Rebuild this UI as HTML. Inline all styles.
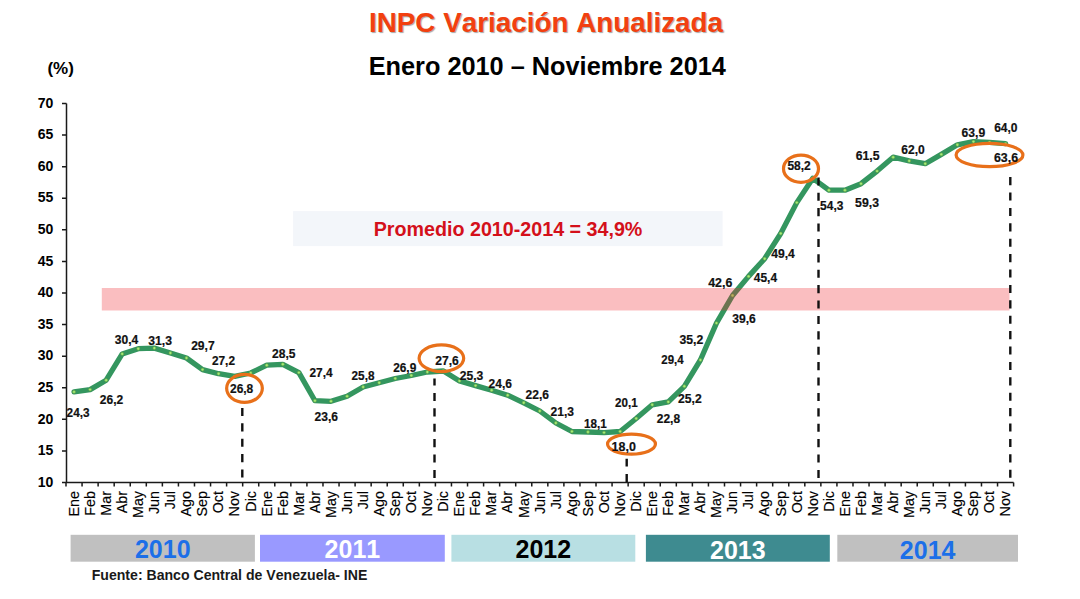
<!DOCTYPE html><html><head><meta charset="utf-8"><style>html,body{margin:0;padding:0;background:#fff;}body{width:1080px;height:599px;overflow:hidden;}svg{display:block;}text{font-family:"Liberation Sans",sans-serif;font-kerning:none;}</style></head><body>
<svg width="1080" height="599" viewBox="0 0 1080 599">
<rect width="1080" height="599" fill="#fff"/>
<text x="369.0" y="31.6" font-size="28.0" textLength="354.0" lengthAdjust="spacingAndGlyphs" font-weight="bold" fill="#F2400F" style="text-shadow:1px 1px 1px rgba(0,0,0,0.35)">INPC Variación Anualizada</text>
<text x="368.7" y="75.3" font-size="25.3" font-weight="bold" fill="#000">Enero 2010 – Noviembre 2014</text>
<text x="47.45" y="73.5" font-size="17" font-weight="bold" fill="#000">(%)</text>
<rect x="293.1" y="211.1" width="429.5" height="35" fill="#F3F6FA"/>
<text x="373.7" y="235.6" font-size="19.7" font-weight="bold" fill="#D4101A">Promedio 2010-2014 = 34,9%</text>
<path d="M66.5 103.5V482.5H1013.6 M62 103.50H66.5 M62 135.08H66.5 M62 166.67H66.5 M62 198.25H66.5 M62 229.83H66.5 M62 261.42H66.5 M62 293.00H66.5 M62 324.58H66.5 M62 356.17H66.5 M62 387.75H66.5 M62 419.33H66.5 M62 450.92H66.5 M62 482.50H66.5 M66.00 482.5V486.5 M82.06 482.5V486.5 M98.12 482.5V486.5 M114.18 482.5V486.5 M130.24 482.5V486.5 M146.31 482.5V486.5 M162.37 482.5V486.5 M178.43 482.5V486.5 M194.49 482.5V486.5 M210.55 482.5V486.5 M226.61 482.5V486.5 M242.67 482.5V486.5 M258.73 482.5V486.5 M274.79 482.5V486.5 M290.85 482.5V486.5 M306.92 482.5V486.5 M322.98 482.5V486.5 M339.04 482.5V486.5 M355.10 482.5V486.5 M371.16 482.5V486.5 M387.22 482.5V486.5 M403.28 482.5V486.5 M419.34 482.5V486.5 M435.40 482.5V486.5 M451.46 482.5V486.5 M467.53 482.5V486.5 M483.59 482.5V486.5 M499.65 482.5V486.5 M515.71 482.5V486.5 M531.77 482.5V486.5 M547.83 482.5V486.5 M563.89 482.5V486.5 M579.95 482.5V486.5 M596.01 482.5V486.5 M612.07 482.5V486.5 M628.14 482.5V486.5 M644.20 482.5V486.5 M660.26 482.5V486.5 M676.32 482.5V486.5 M692.38 482.5V486.5 M708.44 482.5V486.5 M724.50 482.5V486.5 M740.56 482.5V486.5 M756.62 482.5V486.5 M772.68 482.5V486.5 M788.75 482.5V486.5 M804.81 482.5V486.5 M820.87 482.5V486.5 M836.93 482.5V486.5 M852.99 482.5V486.5 M869.05 482.5V486.5 M885.11 482.5V486.5 M901.17 482.5V486.5 M917.23 482.5V486.5 M933.29 482.5V486.5 M949.36 482.5V486.5 M965.42 482.5V486.5 M981.48 482.5V486.5 M997.54 482.5V486.5 M1013.60 482.5V486.5" stroke="#1a1a1a" stroke-width="1.5" fill="none"/>
<text x="53.3" y="107.70" font-size="14" font-weight="bold" text-anchor="end" fill="#000">70</text>
<text x="53.3" y="139.28" font-size="14" font-weight="bold" text-anchor="end" fill="#000">65</text>
<text x="53.3" y="170.87" font-size="14" font-weight="bold" text-anchor="end" fill="#000">60</text>
<text x="53.3" y="202.45" font-size="14" font-weight="bold" text-anchor="end" fill="#000">55</text>
<text x="53.3" y="234.03" font-size="14" font-weight="bold" text-anchor="end" fill="#000">50</text>
<text x="53.3" y="265.62" font-size="14" font-weight="bold" text-anchor="end" fill="#000">45</text>
<text x="53.3" y="297.20" font-size="14" font-weight="bold" text-anchor="end" fill="#000">40</text>
<text x="53.3" y="328.78" font-size="14" font-weight="bold" text-anchor="end" fill="#000">35</text>
<text x="53.3" y="360.37" font-size="14" font-weight="bold" text-anchor="end" fill="#000">30</text>
<text x="53.3" y="391.95" font-size="14" font-weight="bold" text-anchor="end" fill="#000">25</text>
<text x="53.3" y="423.53" font-size="14" font-weight="bold" text-anchor="end" fill="#000">20</text>
<text x="53.3" y="455.12" font-size="14" font-weight="bold" text-anchor="end" fill="#000">15</text>
<text x="53.3" y="486.70" font-size="14" font-weight="bold" text-anchor="end" fill="#000">10</text>
<text transform="translate(78.83,491) rotate(-90)" font-size="14.3" text-anchor="end" fill="#000" stroke="#000" stroke-width="0.15">Ene</text>
<text transform="translate(94.89,491) rotate(-90)" font-size="14.3" text-anchor="end" fill="#000" stroke="#000" stroke-width="0.15">Feb</text>
<text transform="translate(110.95,491) rotate(-90)" font-size="14.3" text-anchor="end" fill="#000" stroke="#000" stroke-width="0.15">Mar</text>
<text transform="translate(127.01,491) rotate(-90)" font-size="14.3" text-anchor="end" fill="#000" stroke="#000" stroke-width="0.15">Abr</text>
<text transform="translate(143.07,491) rotate(-90)" font-size="14.3" text-anchor="end" fill="#000" stroke="#000" stroke-width="0.15">May</text>
<text transform="translate(159.14,491) rotate(-90)" font-size="14.3" text-anchor="end" fill="#000" stroke="#000" stroke-width="0.15">Jun</text>
<text transform="translate(175.20,491) rotate(-90)" font-size="14.3" text-anchor="end" fill="#000" stroke="#000" stroke-width="0.15">Jul</text>
<text transform="translate(191.26,491) rotate(-90)" font-size="14.3" text-anchor="end" fill="#000" stroke="#000" stroke-width="0.15">Ago</text>
<text transform="translate(207.32,491) rotate(-90)" font-size="14.3" text-anchor="end" fill="#000" stroke="#000" stroke-width="0.15">Sep</text>
<text transform="translate(223.38,491) rotate(-90)" font-size="14.3" text-anchor="end" fill="#000" stroke="#000" stroke-width="0.15">Oct</text>
<text transform="translate(239.44,491) rotate(-90)" font-size="14.3" text-anchor="end" fill="#000" stroke="#000" stroke-width="0.15">Nov</text>
<text transform="translate(255.50,491) rotate(-90)" font-size="14.3" text-anchor="end" fill="#000" stroke="#000" stroke-width="0.15">Dic</text>
<text transform="translate(271.56,491) rotate(-90)" font-size="14.3" text-anchor="end" fill="#000" stroke="#000" stroke-width="0.15">Ene</text>
<text transform="translate(287.62,491) rotate(-90)" font-size="14.3" text-anchor="end" fill="#000" stroke="#000" stroke-width="0.15">Feb</text>
<text transform="translate(303.68,491) rotate(-90)" font-size="14.3" text-anchor="end" fill="#000" stroke="#000" stroke-width="0.15">Mar</text>
<text transform="translate(319.75,491) rotate(-90)" font-size="14.3" text-anchor="end" fill="#000" stroke="#000" stroke-width="0.15">Abr</text>
<text transform="translate(335.81,491) rotate(-90)" font-size="14.3" text-anchor="end" fill="#000" stroke="#000" stroke-width="0.15">May</text>
<text transform="translate(351.87,491) rotate(-90)" font-size="14.3" text-anchor="end" fill="#000" stroke="#000" stroke-width="0.15">Jun</text>
<text transform="translate(367.93,491) rotate(-90)" font-size="14.3" text-anchor="end" fill="#000" stroke="#000" stroke-width="0.15">Jul</text>
<text transform="translate(383.99,491) rotate(-90)" font-size="14.3" text-anchor="end" fill="#000" stroke="#000" stroke-width="0.15">Ago</text>
<text transform="translate(400.05,491) rotate(-90)" font-size="14.3" text-anchor="end" fill="#000" stroke="#000" stroke-width="0.15">Sep</text>
<text transform="translate(416.11,491) rotate(-90)" font-size="14.3" text-anchor="end" fill="#000" stroke="#000" stroke-width="0.15">Oct</text>
<text transform="translate(432.17,491) rotate(-90)" font-size="14.3" text-anchor="end" fill="#000" stroke="#000" stroke-width="0.15">Nov</text>
<text transform="translate(448.23,491) rotate(-90)" font-size="14.3" text-anchor="end" fill="#000" stroke="#000" stroke-width="0.15">Dic</text>
<text transform="translate(464.29,491) rotate(-90)" font-size="14.3" text-anchor="end" fill="#000" stroke="#000" stroke-width="0.15">Ene</text>
<text transform="translate(480.36,491) rotate(-90)" font-size="14.3" text-anchor="end" fill="#000" stroke="#000" stroke-width="0.15">Feb</text>
<text transform="translate(496.42,491) rotate(-90)" font-size="14.3" text-anchor="end" fill="#000" stroke="#000" stroke-width="0.15">Mar</text>
<text transform="translate(512.48,491) rotate(-90)" font-size="14.3" text-anchor="end" fill="#000" stroke="#000" stroke-width="0.15">Abr</text>
<text transform="translate(528.54,491) rotate(-90)" font-size="14.3" text-anchor="end" fill="#000" stroke="#000" stroke-width="0.15">May</text>
<text transform="translate(544.60,491) rotate(-90)" font-size="14.3" text-anchor="end" fill="#000" stroke="#000" stroke-width="0.15">Jun</text>
<text transform="translate(560.66,491) rotate(-90)" font-size="14.3" text-anchor="end" fill="#000" stroke="#000" stroke-width="0.15">Jul</text>
<text transform="translate(576.72,491) rotate(-90)" font-size="14.3" text-anchor="end" fill="#000" stroke="#000" stroke-width="0.15">Ago</text>
<text transform="translate(592.78,491) rotate(-90)" font-size="14.3" text-anchor="end" fill="#000" stroke="#000" stroke-width="0.15">Sep</text>
<text transform="translate(608.84,491) rotate(-90)" font-size="14.3" text-anchor="end" fill="#000" stroke="#000" stroke-width="0.15">Oct</text>
<text transform="translate(624.91,491) rotate(-90)" font-size="14.3" text-anchor="end" fill="#000" stroke="#000" stroke-width="0.15">Nov</text>
<text transform="translate(640.97,491) rotate(-90)" font-size="14.3" text-anchor="end" fill="#000" stroke="#000" stroke-width="0.15">Dic</text>
<text transform="translate(657.03,491) rotate(-90)" font-size="14.3" text-anchor="end" fill="#000" stroke="#000" stroke-width="0.15">Ene</text>
<text transform="translate(673.09,491) rotate(-90)" font-size="14.3" text-anchor="end" fill="#000" stroke="#000" stroke-width="0.15">Feb</text>
<text transform="translate(689.15,491) rotate(-90)" font-size="14.3" text-anchor="end" fill="#000" stroke="#000" stroke-width="0.15">Mar</text>
<text transform="translate(705.21,491) rotate(-90)" font-size="14.3" text-anchor="end" fill="#000" stroke="#000" stroke-width="0.15">Abr</text>
<text transform="translate(721.27,491) rotate(-90)" font-size="14.3" text-anchor="end" fill="#000" stroke="#000" stroke-width="0.15">May</text>
<text transform="translate(737.33,491) rotate(-90)" font-size="14.3" text-anchor="end" fill="#000" stroke="#000" stroke-width="0.15">Jun</text>
<text transform="translate(753.39,491) rotate(-90)" font-size="14.3" text-anchor="end" fill="#000" stroke="#000" stroke-width="0.15">Jul</text>
<text transform="translate(769.45,491) rotate(-90)" font-size="14.3" text-anchor="end" fill="#000" stroke="#000" stroke-width="0.15">Ago</text>
<text transform="translate(785.52,491) rotate(-90)" font-size="14.3" text-anchor="end" fill="#000" stroke="#000" stroke-width="0.15">Sep</text>
<text transform="translate(801.58,491) rotate(-90)" font-size="14.3" text-anchor="end" fill="#000" stroke="#000" stroke-width="0.15">Oct</text>
<text transform="translate(817.64,491) rotate(-90)" font-size="14.3" text-anchor="end" fill="#000" stroke="#000" stroke-width="0.15">Nov</text>
<text transform="translate(833.70,491) rotate(-90)" font-size="14.3" text-anchor="end" fill="#000" stroke="#000" stroke-width="0.15">Dic</text>
<text transform="translate(849.76,491) rotate(-90)" font-size="14.3" text-anchor="end" fill="#000" stroke="#000" stroke-width="0.15">Ene</text>
<text transform="translate(865.82,491) rotate(-90)" font-size="14.3" text-anchor="end" fill="#000" stroke="#000" stroke-width="0.15">Feb</text>
<text transform="translate(881.88,491) rotate(-90)" font-size="14.3" text-anchor="end" fill="#000" stroke="#000" stroke-width="0.15">Mar</text>
<text transform="translate(897.94,491) rotate(-90)" font-size="14.3" text-anchor="end" fill="#000" stroke="#000" stroke-width="0.15">Abr</text>
<text transform="translate(914.00,491) rotate(-90)" font-size="14.3" text-anchor="end" fill="#000" stroke="#000" stroke-width="0.15">May</text>
<text transform="translate(930.06,491) rotate(-90)" font-size="14.3" text-anchor="end" fill="#000" stroke="#000" stroke-width="0.15">Jun</text>
<text transform="translate(946.13,491) rotate(-90)" font-size="14.3" text-anchor="end" fill="#000" stroke="#000" stroke-width="0.15">Jul</text>
<text transform="translate(962.19,491) rotate(-90)" font-size="14.3" text-anchor="end" fill="#000" stroke="#000" stroke-width="0.15">Ago</text>
<text transform="translate(978.25,491) rotate(-90)" font-size="14.3" text-anchor="end" fill="#000" stroke="#000" stroke-width="0.15">Sep</text>
<text transform="translate(994.31,491) rotate(-90)" font-size="14.3" text-anchor="end" fill="#000" stroke="#000" stroke-width="0.15">Oct</text>
<text transform="translate(1010.37,491) rotate(-90)" font-size="14.3" text-anchor="end" fill="#000" stroke="#000" stroke-width="0.15">Nov</text>
<path d="M74.03 391.90 L90.09 389.60 L106.15 380.20 L122.21 353.90 L138.27 348.70 L154.34 348.10 L170.40 353.00 L186.46 358.00 L202.52 369.60 L218.58 373.70 L234.64 376.40 L250.70 373.00 L266.76 365.20 L282.82 364.30 L298.88 372.60 L314.95 400.70 L331.01 401.30 L347.07 396.30 L363.13 387.00 L379.19 382.80 L395.25 378.50 L411.31 375.50 L427.37 372.00 L443.43 371.00 L459.49 380.90 L475.56 385.60 L491.62 390.20 L507.68 395.20 L523.74 402.80 L539.80 411.00 L555.86 423.00 L571.92 431.50 L587.98 432.00 L604.04 432.60 L620.11 431.50 L636.17 418.50 L652.23 404.80 L668.29 401.90 L684.35 386.30 L700.41 360.00 L716.47 323.10 L732.53 295.50 L748.59 276.40 L764.65 258.70 L780.72 233.50 L796.78 202.60 L812.84 178.30 L828.90 190.20 L844.96 190.20 L861.02 183.70 L877.08 171.10 L893.14 157.20 L909.20 160.90 L925.26 163.70 L941.33 154.40 L957.39 144.80 L973.45 141.60 L989.51 142.40 L1005.57 143.60" stroke="#34965F" stroke-width="5.3" fill="none" stroke-linejoin="round" stroke-linecap="round"/>
<circle cx="74.03" cy="391.90" r="1.45" fill="#9CF27C" stroke="#7A9A38" stroke-width="0.5"/>
<circle cx="90.09" cy="389.60" r="1.45" fill="#9CF27C" stroke="#7A9A38" stroke-width="0.5"/>
<circle cx="106.15" cy="380.20" r="1.45" fill="#9CF27C" stroke="#7A9A38" stroke-width="0.5"/>
<circle cx="122.21" cy="353.90" r="1.45" fill="#9CF27C" stroke="#7A9A38" stroke-width="0.5"/>
<circle cx="138.27" cy="348.70" r="1.45" fill="#9CF27C" stroke="#7A9A38" stroke-width="0.5"/>
<circle cx="154.34" cy="348.10" r="1.45" fill="#9CF27C" stroke="#7A9A38" stroke-width="0.5"/>
<circle cx="170.40" cy="353.00" r="1.45" fill="#9CF27C" stroke="#7A9A38" stroke-width="0.5"/>
<circle cx="186.46" cy="358.00" r="1.45" fill="#9CF27C" stroke="#7A9A38" stroke-width="0.5"/>
<circle cx="202.52" cy="369.60" r="1.45" fill="#9CF27C" stroke="#7A9A38" stroke-width="0.5"/>
<circle cx="218.58" cy="373.70" r="1.45" fill="#9CF27C" stroke="#7A9A38" stroke-width="0.5"/>
<circle cx="234.64" cy="376.40" r="1.45" fill="#9CF27C" stroke="#7A9A38" stroke-width="0.5"/>
<circle cx="250.70" cy="373.00" r="1.45" fill="#9CF27C" stroke="#7A9A38" stroke-width="0.5"/>
<circle cx="266.76" cy="365.20" r="1.45" fill="#9CF27C" stroke="#7A9A38" stroke-width="0.5"/>
<circle cx="282.82" cy="364.30" r="1.45" fill="#9CF27C" stroke="#7A9A38" stroke-width="0.5"/>
<circle cx="298.88" cy="372.60" r="1.45" fill="#9CF27C" stroke="#7A9A38" stroke-width="0.5"/>
<circle cx="314.95" cy="400.70" r="1.45" fill="#9CF27C" stroke="#7A9A38" stroke-width="0.5"/>
<circle cx="331.01" cy="401.30" r="1.45" fill="#9CF27C" stroke="#7A9A38" stroke-width="0.5"/>
<circle cx="347.07" cy="396.30" r="1.45" fill="#9CF27C" stroke="#7A9A38" stroke-width="0.5"/>
<circle cx="363.13" cy="387.00" r="1.45" fill="#9CF27C" stroke="#7A9A38" stroke-width="0.5"/>
<circle cx="379.19" cy="382.80" r="1.45" fill="#9CF27C" stroke="#7A9A38" stroke-width="0.5"/>
<circle cx="395.25" cy="378.50" r="1.45" fill="#9CF27C" stroke="#7A9A38" stroke-width="0.5"/>
<circle cx="411.31" cy="375.50" r="1.45" fill="#9CF27C" stroke="#7A9A38" stroke-width="0.5"/>
<circle cx="427.37" cy="372.00" r="1.45" fill="#9CF27C" stroke="#7A9A38" stroke-width="0.5"/>
<circle cx="443.43" cy="371.00" r="1.45" fill="#9CF27C" stroke="#7A9A38" stroke-width="0.5"/>
<circle cx="459.49" cy="380.90" r="1.45" fill="#9CF27C" stroke="#7A9A38" stroke-width="0.5"/>
<circle cx="475.56" cy="385.60" r="1.45" fill="#9CF27C" stroke="#7A9A38" stroke-width="0.5"/>
<circle cx="491.62" cy="390.20" r="1.45" fill="#9CF27C" stroke="#7A9A38" stroke-width="0.5"/>
<circle cx="507.68" cy="395.20" r="1.45" fill="#9CF27C" stroke="#7A9A38" stroke-width="0.5"/>
<circle cx="523.74" cy="402.80" r="1.45" fill="#9CF27C" stroke="#7A9A38" stroke-width="0.5"/>
<circle cx="539.80" cy="411.00" r="1.45" fill="#9CF27C" stroke="#7A9A38" stroke-width="0.5"/>
<circle cx="555.86" cy="423.00" r="1.45" fill="#9CF27C" stroke="#7A9A38" stroke-width="0.5"/>
<circle cx="571.92" cy="431.50" r="1.45" fill="#9CF27C" stroke="#7A9A38" stroke-width="0.5"/>
<circle cx="587.98" cy="432.00" r="1.45" fill="#9CF27C" stroke="#7A9A38" stroke-width="0.5"/>
<circle cx="604.04" cy="432.60" r="1.45" fill="#9CF27C" stroke="#7A9A38" stroke-width="0.5"/>
<circle cx="620.11" cy="431.50" r="1.45" fill="#9CF27C" stroke="#7A9A38" stroke-width="0.5"/>
<circle cx="636.17" cy="418.50" r="1.45" fill="#9CF27C" stroke="#7A9A38" stroke-width="0.5"/>
<circle cx="652.23" cy="404.80" r="1.45" fill="#9CF27C" stroke="#7A9A38" stroke-width="0.5"/>
<circle cx="668.29" cy="401.90" r="1.45" fill="#9CF27C" stroke="#7A9A38" stroke-width="0.5"/>
<circle cx="684.35" cy="386.30" r="1.45" fill="#9CF27C" stroke="#7A9A38" stroke-width="0.5"/>
<circle cx="700.41" cy="360.00" r="1.45" fill="#9CF27C" stroke="#7A9A38" stroke-width="0.5"/>
<circle cx="716.47" cy="323.10" r="1.45" fill="#9CF27C" stroke="#7A9A38" stroke-width="0.5"/>
<circle cx="732.53" cy="295.50" r="1.45" fill="#9CF27C" stroke="#7A9A38" stroke-width="0.5"/>
<circle cx="748.59" cy="276.40" r="1.45" fill="#9CF27C" stroke="#7A9A38" stroke-width="0.5"/>
<circle cx="764.65" cy="258.70" r="1.45" fill="#9CF27C" stroke="#7A9A38" stroke-width="0.5"/>
<circle cx="780.72" cy="233.50" r="1.45" fill="#9CF27C" stroke="#7A9A38" stroke-width="0.5"/>
<circle cx="796.78" cy="202.60" r="1.45" fill="#9CF27C" stroke="#7A9A38" stroke-width="0.5"/>
<circle cx="812.84" cy="178.30" r="1.45" fill="#9CF27C" stroke="#7A9A38" stroke-width="0.5"/>
<circle cx="828.90" cy="190.20" r="1.45" fill="#9CF27C" stroke="#7A9A38" stroke-width="0.5"/>
<circle cx="844.96" cy="190.20" r="1.45" fill="#9CF27C" stroke="#7A9A38" stroke-width="0.5"/>
<circle cx="861.02" cy="183.70" r="1.45" fill="#9CF27C" stroke="#7A9A38" stroke-width="0.5"/>
<circle cx="877.08" cy="171.10" r="1.45" fill="#9CF27C" stroke="#7A9A38" stroke-width="0.5"/>
<circle cx="893.14" cy="157.20" r="1.45" fill="#9CF27C" stroke="#7A9A38" stroke-width="0.5"/>
<circle cx="909.20" cy="160.90" r="1.45" fill="#9CF27C" stroke="#7A9A38" stroke-width="0.5"/>
<circle cx="925.26" cy="163.70" r="1.45" fill="#9CF27C" stroke="#7A9A38" stroke-width="0.5"/>
<circle cx="941.33" cy="154.40" r="1.45" fill="#9CF27C" stroke="#7A9A38" stroke-width="0.5"/>
<circle cx="957.39" cy="144.80" r="1.45" fill="#9CF27C" stroke="#7A9A38" stroke-width="0.5"/>
<circle cx="973.45" cy="141.60" r="1.45" fill="#9CF27C" stroke="#7A9A38" stroke-width="0.5"/>
<circle cx="989.51" cy="142.40" r="1.45" fill="#9CF27C" stroke="#7A9A38" stroke-width="0.5"/>
<circle cx="1005.57" cy="143.60" r="1.45" fill="#9CF27C" stroke="#7A9A38" stroke-width="0.5"/>
<rect x="101.8" y="288" width="907.7" height="22.5" fill="rgba(240,40,45,0.3)"/>
<path d="M242.3 477.6V407.5" stroke="#111" stroke-width="2.4" stroke-dasharray="8.1 7.3"/>
<path d="M434.5 478.0V378.5" stroke="#111" stroke-width="2.4" stroke-dasharray="8.1 7.3"/>
<path d="M626.7 482.0V458.8" stroke="#111" stroke-width="2.4" stroke-dasharray="8.1 7.3"/>
<path d="M818.5 478.0V177.4" stroke="#111" stroke-width="2.4" stroke-dasharray="8.1 7.3"/>
<path d="M1010.3 477.8V177.1" stroke="#111" stroke-width="2.4" stroke-dasharray="8.1 7.3"/>
<ellipse cx="244.5" cy="388.3" rx="17.85" ry="14.0" fill="none" stroke="#E8701A" stroke-width="3.2"/>
<ellipse cx="441.4" cy="358.2" rx="22.3" ry="13.35" fill="none" stroke="#E8701A" stroke-width="3.2"/>
<ellipse cx="631.5" cy="444.1" rx="23.95" ry="10.0" fill="none" stroke="#E8701A" stroke-width="3.2"/>
<ellipse cx="801.0" cy="168.7" rx="17.5" ry="13.6" fill="none" stroke="#E8701A" stroke-width="3.2"/>
<ellipse cx="989.5" cy="155.0" rx="33.4" ry="11.65" fill="none" stroke="#E8701A" stroke-width="3.2"/>
<text x="78.06" y="416.50" font-size="12.6" font-weight="bold" text-anchor="middle" textLength="22.99" lengthAdjust="spacingAndGlyphs" fill="#111" stroke="#111" stroke-width="0.2">24,3</text>
<text x="111.58" y="403.90" font-size="12.6" font-weight="bold" text-anchor="middle" textLength="23.44" lengthAdjust="spacingAndGlyphs" fill="#111" stroke="#111" stroke-width="0.2">26,2</text>
<text x="126.54" y="344.30" font-size="12.6" font-weight="bold" text-anchor="middle" textLength="23.46" lengthAdjust="spacingAndGlyphs" fill="#111" stroke="#111" stroke-width="0.2">30,4</text>
<text x="160.08" y="344.60" font-size="12.6" font-weight="bold" text-anchor="middle" textLength="23.74" lengthAdjust="spacingAndGlyphs" fill="#111" stroke="#111" stroke-width="0.2">31,3</text>
<text x="202.91" y="349.80" font-size="12.6" font-weight="bold" text-anchor="middle" textLength="23.49" lengthAdjust="spacingAndGlyphs" fill="#111" stroke="#111" stroke-width="0.2">29,7</text>
<text x="223.48" y="364.60" font-size="12.6" font-weight="bold" text-anchor="middle" textLength="23.04" lengthAdjust="spacingAndGlyphs" fill="#111" stroke="#111" stroke-width="0.2">27,2</text>
<text x="241.63" y="393.20" font-size="12.6" font-weight="bold" text-anchor="middle" textLength="23.32" lengthAdjust="spacingAndGlyphs" fill="#111" stroke="#111" stroke-width="0.2">26,8</text>
<text x="283.71" y="358.00" font-size="12.6" font-weight="bold" text-anchor="middle" textLength="23.49" lengthAdjust="spacingAndGlyphs" fill="#111" stroke="#111" stroke-width="0.2">28,5</text>
<text x="321.02" y="377.40" font-size="12.6" font-weight="bold" text-anchor="middle" textLength="23.10" lengthAdjust="spacingAndGlyphs" fill="#111" stroke="#111" stroke-width="0.2">27,4</text>
<text x="326.21" y="421.30" font-size="12.6" font-weight="bold" text-anchor="middle" textLength="23.49" lengthAdjust="spacingAndGlyphs" fill="#111" stroke="#111" stroke-width="0.2">23,6</text>
<text x="363.03" y="380.20" font-size="12.6" font-weight="bold" text-anchor="middle" textLength="22.92" lengthAdjust="spacingAndGlyphs" fill="#111" stroke="#111" stroke-width="0.2">25,8</text>
<text x="404.72" y="371.90" font-size="12.6" font-weight="bold" text-anchor="middle" textLength="23.10" lengthAdjust="spacingAndGlyphs" fill="#111" stroke="#111" stroke-width="0.2">26,9</text>
<text x="447.06" y="365.40" font-size="12.6" font-weight="bold" text-anchor="middle" textLength="23.59" lengthAdjust="spacingAndGlyphs" fill="#111" stroke="#111" stroke-width="0.2">27,6</text>
<text x="471.46" y="380.20" font-size="12.6" font-weight="bold" text-anchor="middle" textLength="23.59" lengthAdjust="spacingAndGlyphs" fill="#111" stroke="#111" stroke-width="0.2">25,3</text>
<text x="500.26" y="388.00" font-size="12.6" font-weight="bold" text-anchor="middle" textLength="23.39" lengthAdjust="spacingAndGlyphs" fill="#111" stroke="#111" stroke-width="0.2">24,6</text>
<text x="537.21" y="398.70" font-size="12.6" font-weight="bold" text-anchor="middle" textLength="23.49" lengthAdjust="spacingAndGlyphs" fill="#111" stroke="#111" stroke-width="0.2">22,6</text>
<text x="562.21" y="416.30" font-size="12.6" font-weight="bold" text-anchor="middle" textLength="23.49" lengthAdjust="spacingAndGlyphs" fill="#111" stroke="#111" stroke-width="0.2">21,3</text>
<text x="595.48" y="427.60" font-size="12.6" font-weight="bold" text-anchor="middle" textLength="22.74" lengthAdjust="spacingAndGlyphs" fill="#111" stroke="#111" stroke-width="0.2">18,1</text>
<text x="626.36" y="406.90" font-size="12.6" font-weight="bold" text-anchor="middle" textLength="22.59" lengthAdjust="spacingAndGlyphs" fill="#111" stroke="#111" stroke-width="0.2">20,1</text>
<text x="623.76" y="450.80" font-size="12.6" font-weight="bold" text-anchor="middle" textLength="24.31" lengthAdjust="spacingAndGlyphs" fill="#111" stroke="#111" stroke-width="0.2">18,0</text>
<text x="668.43" y="423.00" font-size="12.6" font-weight="bold" text-anchor="middle" textLength="23.32" lengthAdjust="spacingAndGlyphs" fill="#111" stroke="#111" stroke-width="0.2">22,8</text>
<text x="689.88" y="402.60" font-size="12.6" font-weight="bold" text-anchor="middle" textLength="23.64" lengthAdjust="spacingAndGlyphs" fill="#111" stroke="#111" stroke-width="0.2">25,2</text>
<text x="672.42" y="363.70" font-size="12.6" font-weight="bold" text-anchor="middle" textLength="22.30" lengthAdjust="spacingAndGlyphs" fill="#111" stroke="#111" stroke-width="0.2">29,4</text>
<text x="691.31" y="343.90" font-size="12.6" font-weight="bold" text-anchor="middle" textLength="23.79" lengthAdjust="spacingAndGlyphs" fill="#111" stroke="#111" stroke-width="0.2">35,2</text>
<text x="720.28" y="287.10" font-size="12.6" font-weight="bold" text-anchor="middle" textLength="24.15" lengthAdjust="spacingAndGlyphs" fill="#111" stroke="#111" stroke-width="0.2">42,6</text>
<text x="765.44" y="281.90" font-size="12.6" font-weight="bold" text-anchor="middle" textLength="23.26" lengthAdjust="spacingAndGlyphs" fill="#111" stroke="#111" stroke-width="0.2">45,4</text>
<text x="743.98" y="322.80" font-size="12.6" font-weight="bold" text-anchor="middle" textLength="23.54" lengthAdjust="spacingAndGlyphs" fill="#111" stroke="#111" stroke-width="0.2">39,6</text>
<text x="783.09" y="258.20" font-size="12.6" font-weight="bold" text-anchor="middle" textLength="23.56" lengthAdjust="spacingAndGlyphs" fill="#111" stroke="#111" stroke-width="0.2">49,4</text>
<text x="799.06" y="170.10" font-size="12.6" font-weight="bold" text-anchor="middle" textLength="23.29" lengthAdjust="spacingAndGlyphs" fill="#111" stroke="#111" stroke-width="0.2">58,2</text>
<text x="831.73" y="209.60" font-size="12.6" font-weight="bold" text-anchor="middle" textLength="23.24" lengthAdjust="spacingAndGlyphs" fill="#111" stroke="#111" stroke-width="0.2">54,3</text>
<text x="867.03" y="206.90" font-size="12.6" font-weight="bold" text-anchor="middle" textLength="23.84" lengthAdjust="spacingAndGlyphs" fill="#111" stroke="#111" stroke-width="0.2">59,3</text>
<text x="867.54" y="159.80" font-size="12.6" font-weight="bold" text-anchor="middle" textLength="23.81" lengthAdjust="spacingAndGlyphs" fill="#111" stroke="#111" stroke-width="0.2">61,5</text>
<text x="913.08" y="153.70" font-size="12.6" font-weight="bold" text-anchor="middle" textLength="23.48" lengthAdjust="spacingAndGlyphs" fill="#111" stroke="#111" stroke-width="0.2">62,0</text>
<text x="973.35" y="136.70" font-size="12.6" font-weight="bold" text-anchor="middle" textLength="23.63" lengthAdjust="spacingAndGlyphs" fill="#111" stroke="#111" stroke-width="0.2">63,9</text>
<text x="1005.83" y="131.70" font-size="12.6" font-weight="bold" text-anchor="middle" textLength="23.38" lengthAdjust="spacingAndGlyphs" fill="#111" stroke="#111" stroke-width="0.2">64,0</text>
<text x="1006.00" y="161.50" font-size="12.6" font-weight="bold" text-anchor="middle" textLength="24.12" lengthAdjust="spacingAndGlyphs" fill="#111" stroke="#111" stroke-width="0.2">63,6</text>
<rect x="70.6" y="534.8" width="184.3" height="26.9" fill="#C0C0C0"/>
<text x="162.75" y="557.6" font-size="25" font-weight="bold" text-anchor="middle" fill="#1C6FE8">2010</text>
<rect x="260.0" y="534.8" width="184.8" height="26.9" fill="#9999FF"/>
<text x="352.40" y="557.6" font-size="25" font-weight="bold" text-anchor="middle" fill="#FFFFFF">2011</text>
<rect x="451.4" y="534.8" width="183.9" height="26.9" fill="#B8DFE3"/>
<text x="543.35" y="557.6" font-size="25" font-weight="bold" text-anchor="middle" fill="#000000">2012</text>
<rect x="645.9" y="534.8" width="183.9" height="26.9" fill="#3E8B90"/>
<text x="737.85" y="558.6" font-size="25" font-weight="bold" text-anchor="middle" fill="#FFFFFF">2013</text>
<rect x="837.3" y="534.8" width="180.7" height="26.9" fill="#C0C0C0"/>
<text x="927.65" y="558.6" font-size="25" font-weight="bold" text-anchor="middle" fill="#1C6FE8">2014</text>
<text x="91.7" y="580.2" font-size="14.1" font-weight="bold" fill="#1a1a1a">Fuente: Banco Central de Venezuela- INE</text>
</svg></body></html>
